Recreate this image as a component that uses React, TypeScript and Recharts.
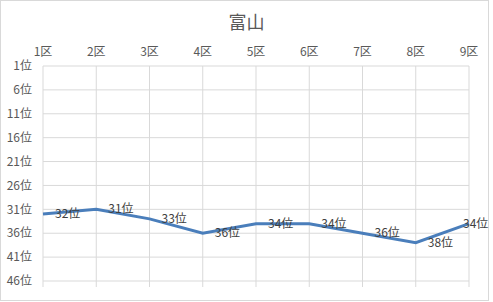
import React from 'react';
import { LineChart, Line, XAxis, YAxis, CartesianGrid, LabelList } from 'recharts';

const categories = ['1区', '2区', '3区', '4区', '5区', '6区', '7区', '8区', '9区'];
const ranks = [32, 31, 33, 36, 34, 34, 36, 38, 34];
const yTicks = [1, 6, 11, 16, 21, 26, 31, 36, 41, 46];
const title = '富山';

const data = categories.map((c, i) => ({ name: c, rank: ranks[i] }));

const FONT = '"Noto Sans CJK JP", "Noto Sans", sans-serif';
const W = 493;
const H = 302;

const DataLabel = (props: any) => {
  const { x, y, value } = props;
  const text = `${value}位`;
  const approxW = String(value).length * 6.5 + 12;
  let tx = x + 12;
  if (tx + approxW > W - 5) tx = W - 5 - approxW;
  return (
    <text x={tx} y={y} dy={4} fontSize={12} fill="#404040" fontFamily={FONT} textAnchor="start">
      {text}
    </text>
  );
};

export default function App() {
  return (
    <div style={{ position: 'absolute', left: 0, top: 0, width: W, height: H, background: '#fff' }}>
      <div
        style={{
          position: 'absolute', left: 0, top: 0, width: 489, height: 301,
          border: '1px solid #d9d9d9', boxSizing: 'border-box',
        }}
      />
      <div
        style={{
          position: 'absolute', left: 0, top: 9, width: W, textAlign: 'center',
          fontFamily: FONT, fontSize: 18, color: '#595959', lineHeight: '24px',
        }}
      >
        {title}
      </div>
      <LineChart
        width={W}
        height={H}
        data={data}
        margin={{ top: 36, right: 24, bottom: 15, left: 0 }}
        style={{ position: 'absolute', left: 0, top: 0 }}
      >
        <CartesianGrid xAxisId="top" stroke="#d9d9d9" strokeWidth={1} />
        <XAxis
          xAxisId="top"
          dataKey="name"
          orientation="top"
          height={30}
          axisLine={false}
          tickLine={false}
          tickMargin={4}
          interval={0}
          tick={{ fontSize: 12, fill: '#595959', fontFamily: FONT }}
        />
        <XAxis
          xAxisId="bottom"
          dataKey="name"
          orientation="bottom"
          height={6}
          axisLine={false}
          tickLine={{ stroke: '#d9d9d9' }}
          tickSize={6}
          interval={0}
          tick={() => <g />}
        />
        <YAxis
          type="number"
          domain={[1, 46]}
          reversed
          ticks={yTicks}
          width={43}
          axisLine={false}
          tickLine={false}
          tickMargin={5}
          interval={0}
          tickFormatter={(v: number) => `${v}位`}
          tick={{ fontSize: 12, fill: '#595959', fontFamily: FONT }}
        />
        <Line
          xAxisId="top"
          type="linear"
          dataKey="rank"
          stroke="#4a7ebb"
          strokeWidth={3}
          dot={false}
          isAnimationActive={false}
        >
          <LabelList dataKey="rank" content={<DataLabel />} />
        </Line>
      </LineChart>
    </div>
  );
}
